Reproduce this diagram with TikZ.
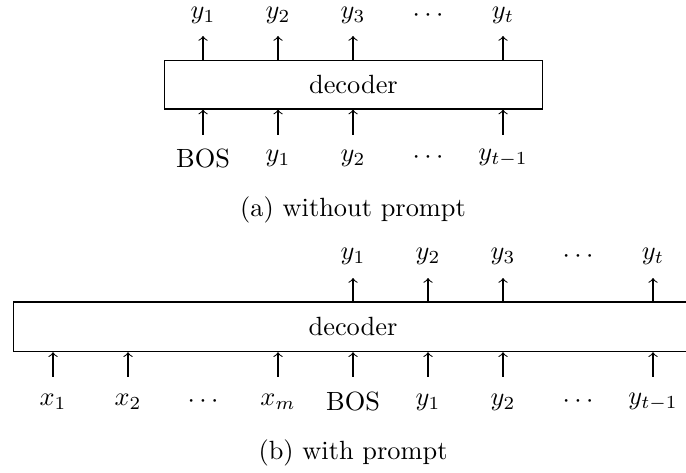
\documentclass[tikz,border=0pt]{standalone}
\begin{document}
\begin{tikzpicture}[
  dec/.style={draw, rectangle, inner sep=0pt, line width=0.4pt},
  arr/.style={->, line width=0.4pt},
  lab/.style={inner sep=0pt},
]
\useasboundingbox (0,0) rectangle (9.1467,-6.3067);
\clip (0,0) rectangle (9.1467,-6.3067);
% ---------- (a) without prompt ----------
\node[dec, minimum width=5.04cm, minimum height=0.653cm] (boxa) at (4.713,-1.127) {decoder};
% outputs
\foreach \k/\t [count=\i] in {2/{y_1},3/{y_2},4/{y_3},5/{\cdots},6/{y_t}} {
  \node[lab] (oal\i) at ({0.707+\k},-0.205) {$\t$};
}
\foreach \k [count=\i] in {2,3,4,6} {
  \coordinate (oa\i) at ({0.707+\k},-0.48);
  \draw[arr] (oa\i |- boxa.north) -- (oa\i);
}
% inputs
\node[lab] (ial1) at (2.707,-2.107) {BOS};
\node[lab] (ial2) at (3.707,-2.107) {$y_1$};
\node[lab] (ial3) at (4.707,-2.107) {$y_2$};
\node[lab] (ial4) at (5.707,-2.107) {$\cdots$};
\node[lab] (ial5) at (6.707,-2.107) {$y_{t-1}$};
\foreach \k [count=\i] in {2,3,4,6} {
  \coordinate (ia\i) at ({0.707+\k},-1.8);
  \draw[arr] (ia\i) -- (ia\i |- boxa.south);
}
\node[lab] (capa) at (4.707,-2.8) {(a) without prompt};
% ---------- (b) with prompt ----------
\node[dec, minimum width=9.07cm, minimum height=0.662cm] (boxb) at (4.713,-4.358) {};
\node[lab] (decb) at (4.707,-4.358) {decoder};
% outputs
\foreach \k/\t [count=\i] in {4/{y_1},5/{y_2},6/{y_3},7/{\cdots},8/{y_t}} {
  \node[lab] (obl\i) at ({0.707+\k},-3.42) {$\t$};
}
\foreach \k [count=\i] in {4,5,6,8} {
  \coordinate (ob\i) at ({0.707+\k},-3.707);
  \draw[arr] (ob\i |- boxb.north) -- (ob\i);
}
% inputs
\node[lab] (ibl1) at (0.707,-5.36) {$x_1$};
\node[lab] (ibl2) at (1.707,-5.36) {$x_2$};
\node[lab] (ibl3) at (2.707,-5.36) {$\cdots$};
\node[lab] (ibl4) at (3.707,-5.36) {$x_m$};
\node[lab] (ibl5) at (4.707,-5.36) {BOS};
\node[lab] (ibl6) at (5.707,-5.36) {$y_1$};
\node[lab] (ibl7) at (6.707,-5.36) {$y_2$};
\node[lab] (ibl8) at (7.707,-5.36) {$\cdots$};
\node[lab] (ibl9) at (8.707,-5.36) {$y_{t-1}$};
\foreach \k [count=\i] in {0,1,3,4,5,6,8} {
  \coordinate (ib\i) at ({0.707+\k},-5.023);
  \draw[arr] (ib\i) -- (ib\i |- boxb.south);
}
\node[lab] (capb) at (4.707,-6.04) {(b) with prompt};
\end{tikzpicture}
\end{document}
